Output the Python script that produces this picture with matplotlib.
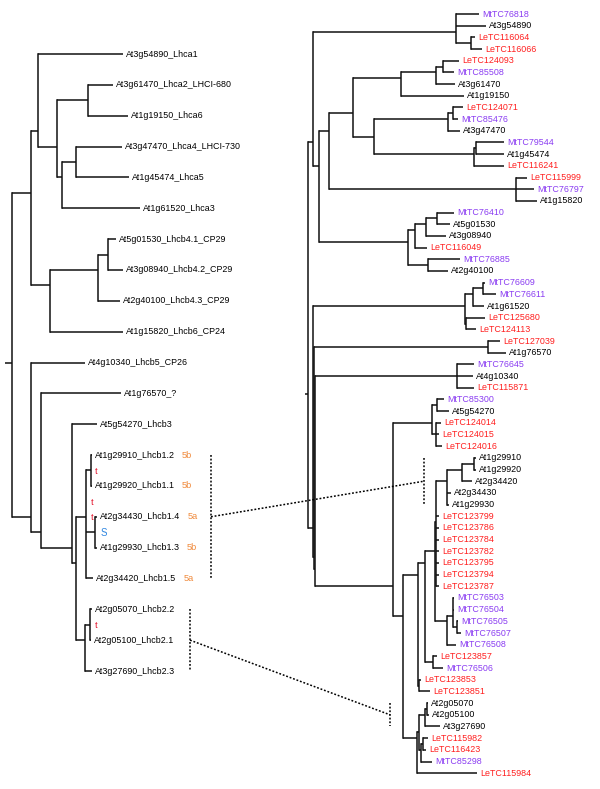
import matplotlib
matplotlib.use('Agg')
import matplotlib.pyplot as plt

plt.rcParams['font.family'] = ['Liberation Sans', 'DejaVu Sans']

# Arabidopsis LHC tree (branch lengths in pixel units)
left_tree = (
    "(((At3g54890_Lhca1:85,((At3g61470_Lhca2_LHCI-680:25,At1g19150_Lhca6:40):31,"
    "((At3g47470_Lhca4_LHCI-730:46,At1g45474_Lhca5:53):14,At1g61520_Lhca3:78):5):19):7,"
    "(((At5g01530_Lhcb4.1_CP29:8,At3g08940_Lhcb4.2_CP29:15):10,At2g40100_Lhcb4.3_CP29:22):48,"
    "At1g15820_Lhcb6_CP24:73):19):19,"
    "(At4g10340_Lhcb5_CP26:54,(At1g76570_?:80,(At5g54270_Lhcb3:25,"
    "(((At1g29910_Lhcb1.2:1,At1g29920_Lhcb1.1:1):5,(At2g34430_Lhcb1.4:2,At1g29930_Lhcb1.3:2):9,"
    "At2g34420_Lhcb1.5:7):10,((At2g05070_Lhcb2.2:2,At2g05100_Lhcb2.1:1):5,At3g27690_Lhcb2.3:7):9):4"
    "):31):10):19):7;"
)

# At / Mt / Le tree
right_tree = (
    "("
    "((MtTC76818:23,At3g54890:30,(LeTC116064:4,LeTC116066:11):15):143,"
    "((("
    "(((LeTC124093:16,MtTC85508:11):7,At3g61470:19):35,At1g19150:63):48,"
    "(((LeTC124071:10,MtTC85476:5):5,At3g47470:12):74,"
    "((MtTC79544:28,At1g45474:28):2,LeTC116241:30):100):21"
    "):24,"
    "(LeTC115999:11,MtTC76797:18,At1g15820:21):187"
    "):10,"
    "((((MtTC76410:17,At5g01530:13):11,At3g08940:20):11,LeTC116049:12):7,"
    "(MtTC76885:32,At2g40100:20):20):89"
    "):6"
    "):5,"
    "("
    "(((MtTC76609:2,MtTC76611:13):10,At1g61520:11):8,(LeTC125680:19,LeTC124113:10):1):152,"
    "("
    "(LeTC127039:12,At1g76570:18):174,"
    "("
    "(MtTC76645:17,At4g10340:16,LeTC115871:17):142,"
    "("
    "((MtTC85300:7,At5g54270:12):5,(LeTC124014:5,LeTC124015:3,LeTC124016:6):4):39,"
    "(((("
    "((((At1g29910:2,At1g29920:2):12,At2g34420:10):15,At2g34430:4,At1g29930:2):11,"
    "LeTC123799:3,LeTC123786:3,LeTC123784:3,LeTC123782:3,LeTC123795:3,LeTC123794:3,LeTC123787:3):1,"
    "((MtTC76503:1,MtTC76504:1,(MtTC76505:1,MtTC76507:4):4):6,MtTC76508:9):12"
    "):10,"
    "(LeTC123857:4,MtTC76506:10):8"
    "):7,"
    "(LeTC123853:2,LeTC123851:11):1"
    "):15,"
    "((((At2g05070:1,At2g05100:2):2,At3g27690:15):6,((LeTC115982:5,LeTC116423:3):2,MtTC85298:11):2):2,"
    "LeTC115984:60):14"
    "):10"
    "):78"
    "):1"
    "):1"
    "):5"
    "):3;"
)

# Lhcb1 subtypes next to the left labels
subtype_leaf = ['At1g29910_Lhcb1.2', 'At1g29920_Lhcb1.1', 'At2g34430_Lhcb1.4',
                'At1g29930_Lhcb1.3', 'At2g34420_Lhcb1.5']
subtype_tag = ['5b', '5b', '5a', '5b', '5a']

# node marks on the left tree
mark_text = ['t', 't', 't', 'S', 't']
mark_x = [95, 91, 91, 101, 95]
mark_y = [471, 502, 517, 533, 626]
mark_color = ['#e3132b', '#e3132b', '#e3132b', '#2f86e0', '#e3132b']

# dotted brackets linking the two trees: (first leaf, last leaf) on each side
bracket_left = [('At1g29910_Lhcb1.2', 'At2g34420_Lhcb1.5'),
                ('At2g05070_Lhcb2.2', 'At3g27690_Lhcb2.3')]
bracket_right = [('At1g29910', 'At1g29930'), ('At2g05070', 'At3g27690')]
bracket_left_x = [211, 190]
bracket_right_x = [424, 390]

PURPLE = '#8a3cf2'
RED = '#ff1e1e'
ORANGE = '#f08a3c'


def parse_newick(s):
    pos = 0

    def node():
        nonlocal pos
        kids = []
        if s[pos] == '(':
            pos += 1
            while True:
                kids.append(node())
                if s[pos] == ',':
                    pos += 1
                    continue
                pos += 1
                break
        start = pos
        while s[pos] not in ':,();':
            pos += 1
        name = s[start:pos]
        length = 0.0
        if s[pos] == ':':
            pos += 1
            start = pos
            while s[pos] not in ',();':
                pos += 1
            length = float(s[start:pos])
        return {'name': name, 'len': length, 'kids': kids}

    return node()


def layout(tree, x0, y0, dy):
    leaves = []

    def walk(n, xp):
        n['x0'] = xp
        n['x'] = xp + n['len']
        if not n['kids']:
            n['y'] = y0 + len(leaves) * dy
            n['ys'] = [n['y']]
            leaves.append(n)
        else:
            ys = []
            for k in n['kids']:
                walk(k, n['x'])
                ys += k['ys']
            n['ys'] = ys
            n['y'] = sum(ys) / len(ys)

    walk(tree, x0)
    return leaves


def draw(ax, n):
    ax.plot([n['x0'], n['x']], [n['y'], n['y']], color='#111111', lw=1.1,
            solid_capstyle='butt')
    if n['kids']:
        kid_y = [k['y'] for k in n['kids']]
        ax.plot([n['x'], n['x']], [min(kid_y), max(kid_y)], color='#111111',
                lw=1.1, solid_capstyle='projecting')
        for k in n['kids']:
            draw(ax, k)


def label_color(name):
    if name.startswith('MtTC'):
        return PURPLE
    if name.startswith('LeTC'):
        return RED
    return 'black'


fig = plt.figure(figsize=(6, 7.89), dpi=100)
ax = fig.add_axes([0, 0, 1, 1])
ax.set_xlim(0, 600)
ax.set_ylim(789, 0)
ax.axis('off')

left = parse_newick(left_tree)
right = parse_newick(right_tree)
left_leaves = layout(left, 5, 54, 30.85)
right_leaves = layout(right, 305, 14, 11.68)
draw(ax, left)
draw(ax, right)

label_art = {}
for lf in left_leaves:
    label_art[lf['name']] = ax.text(lf['x'] + 3, lf['y'], lf['name'], fontsize=6.4,
                                    va='center', ha='left', color='black')
for lf in right_leaves:
    ax.text(lf['x'] + 3, lf['y'], lf['name'], fontsize=6.4, va='center',
            ha='left', color=label_color(lf['name']))

for name, tag in zip(subtype_leaf, subtype_tag):
    ax.annotate(tag, xy=(1, 0.5), xycoords=label_art[name], xytext=(7, 0),
                textcoords='offset pixels', fontsize=6.6, color=ORANGE,
                va='center', ha='left')

for t, x, y, c in zip(mark_text, mark_x, mark_y, mark_color):
    ax.text(x, y, t, fontsize=7 if t == 'S' else 6.6, color=c, ha='left', va='center')

left_pos = {lf['name']: lf['y'] for lf in left_leaves}
right_pos = {lf['name']: lf['y'] for lf in right_leaves}
dots = dict(color='black', lw=1.1, linestyle=(0, (1.2, 1.2)))
for (la, lb), (ra, rb), lx, rx in zip(bracket_left, bracket_right,
                                      bracket_left_x, bracket_right_x):
    ly0, ly1 = left_pos[la], left_pos[lb]
    ry0, ry1 = right_pos[ra], right_pos[rb]
    ax.plot([lx, lx], [ly0, ly1], **dots)
    ax.plot([rx, rx], [ry0, ry1], **dots)
    ax.plot([lx, rx], [(ly0 + ly1) / 2, (ry0 + ry1) / 2], **dots)

fig.savefig('out.png', dpi=100)
